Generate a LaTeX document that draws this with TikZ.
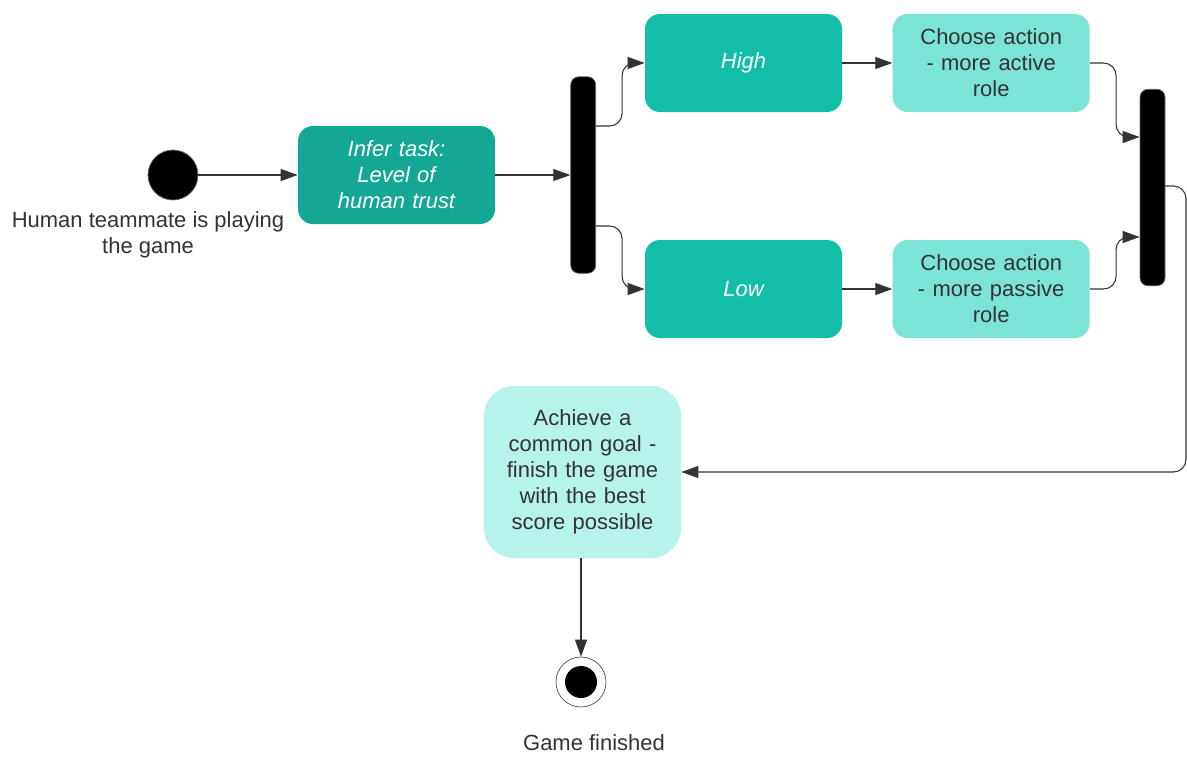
\documentclass[tikz,border=0pt]{standalone}
\usepackage{fontspec}
\setmainfont{Liberation Sans}
\usetikzlibrary{calc, arrows.meta, positioning}

\definecolor{darkteal}{HTML}{14A894}
\definecolor{midteal}{HTML}{12BFA6}
\definecolor{lightteal}{HTML}{7BE4D7}
\definecolor{paleteal}{HTML}{B6F3EB}
\definecolor{textgray}{HTML}{333333}

\begin{document}
\begin{tikzpicture} [node distance=1cm,
		% define styles
		inferstyle/.style={
			% The shape:
			rectangle,
			% The size:
			minimum width=3.94cm, minimum height=1.96cm,
			text width=3.5cm, align=center,
			% The filling:
			fill=darkteal,
			% Corners
			rounded corners=3mm,
			% Font
			text=white, font=\fontsize{12.5}{14.8}\selectfont\itshape
		},
		levelstyle/.style={
			% The shape:
			rectangle,
			% The size:
			minimum width=3.94cm, minimum height=1.96cm,
			% The filling:
			fill=midteal,
			% Corners
			rounded corners=3mm,
			% Font
			text=white, font=\fontsize{12.5}{14.8}\selectfont\itshape
		},
		choosestyle/.style={
			% The shape:
			rectangle,
			% The size:
			minimum width=3.94cm, minimum height=1.96cm,
			text width=3.6cm, align=center,
			% The filling:
			fill=lightteal,
			% Corners
			rounded corners=3mm,
			% Font
			text=textgray, font=\fontsize{12.5}{14.8}\selectfont
		},
		goalstyle/.style={
			% The shape:
			rectangle,
			% The size:
			minimum width=3.94cm, minimum height=3.44cm,
			text width=3.4cm, align=center,
			% The filling:
			fill=paleteal,
			% Corners
			rounded corners=6mm,
			% Font
			text=textgray, font=\fontsize{12.5}{14.8}\selectfont
		},
		barstyle/.style={
			% The shape:
			rectangle,
			% The size:
			minimum width=0.5cm, minimum height=3.93cm,
			% The border:
			draw=black!60, thin,
			% The filling:
			fill=black,
			% Corners
			rounded corners=1.6mm
		},
		labelstyle/.style={
			align=center,
			text=textgray, font=\fontsize{12.5}{14.8}\selectfont
		},
		arrow/.style={
			-{Triangle[length=3.4mm,width=2.4mm]},
			% Thickness
			semithick,
			% Color
			textgray,
			rounded corners=2.5mm
		}]
		% end of style definition

		\useasboundingbox (0,0) rectangle (23.74,-15.12);

		% draw nodes
		\node (iStart) [circle, fill=black, draw=black!60, minimum size=1cm, inner sep=0pt] at (3.46,-3.5) {};
		\node (iStartText) [labelstyle] at (2.96,-4.7) {Human teammate is playing\\the game};
		\node (iInfer) [inferstyle] at (7.93,-3.5) {Infer task:\\Level of\\human trust};
		\node (iFork) [barstyle, right = 1.5cm of iInfer] {};

		\node (iHigh) [levelstyle] at (14.87,-1.26) {High};
		\node (iLow) [levelstyle] at (14.87,-5.78) {Low};
		\node (iActive) [choosestyle, right = 1cm of iHigh] {Choose action\\- more active\\role};
		\node (iPassive) [choosestyle, right = 1cm of iLow] {Choose action\\- more passive\\role};

		\node (iJoin) [barstyle] at (23.05,-3.75) {};

		\node (iGoal) [goalstyle] at (11.65,-9.44) {Achieve a\\common goal -\\finish the game\\with the best\\score possible};

		\node (iEnd) [circle, draw=black!70, thin, minimum size=1cm, inner sep=0pt] at (11.62,-13.64) {};
		\node (iEndDot) [circle, fill=black, minimum size=0.64cm, inner sep=0pt] at (iEnd) {};
		\node (iEndText) [labelstyle] at (11.88,-14.86) {Game finished};

		% connect nodes
		\draw [arrow] (iStart) -- (iInfer);
		\draw [arrow] (iInfer) -- (iFork);

		\draw [arrow] ([yshift=0.98cm]iFork.east) -- ++(0.52,0) |- (iHigh);
		\draw [arrow] ([yshift=-1.02cm]iFork.east) -- ++(0.52,0) |- (iLow);

		\draw [arrow] (iHigh) -- (iActive);
		\draw [arrow] (iLow) -- (iPassive);

		\draw [arrow] (iActive.east) -- ++(0.52,0) |- ([yshift=1.01cm]iJoin.west);
		\draw [arrow] (iPassive.east) -- ++(0.52,0) |- ([yshift=-0.99cm]iJoin.west);

		\draw [arrow] ([yshift=0.03cm]iJoin.east) -- (23.72,-3.72) |- (iGoal.east);
		\draw [arrow] (iGoal.south -| iEnd) -- (iEnd);
	\end{tikzpicture}
\end{document}
